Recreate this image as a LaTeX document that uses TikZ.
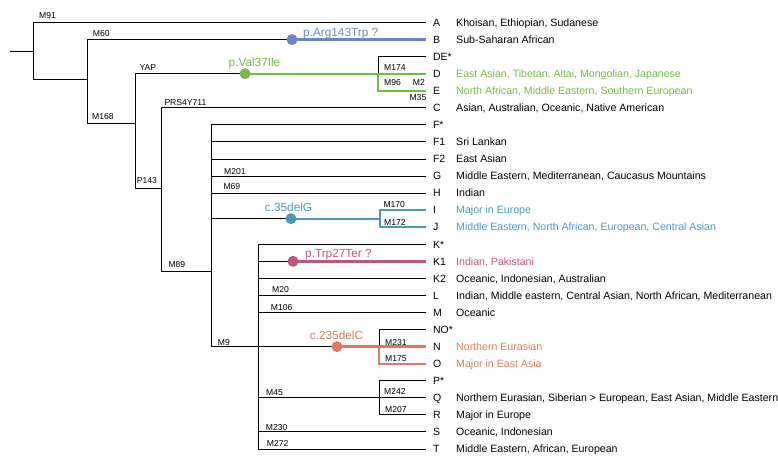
\documentclass[tikz,border=0pt]{standalone}
\usepackage{fontspec}
\setmainfont{Liberation Sans}
\definecolor{cArg}{HTML}{6B87C3}
\definecolor{cVal}{HTML}{76B947}
\definecolor{cDelG}{HTML}{4D98B8}
\definecolor{cTrp}{HTML}{BE5580}
\definecolor{cDelC}{HTML}{DE7B5E}
\tikzset{
  treeline/.style={line width=0.9pt},
  hitline/.style={line width=2.4pt},
  hitdot/.style={circle, fill, inner sep=0pt, minimum size=11pt},
  leaf/.style={anchor=west, inner xsep=3.5pt, outer xsep=3.5pt, inner ysep=0pt, outer ysep=0pt,
    text height=7.5pt, text depth=0pt, font=\fontsize{10.5}{12}\selectfont},
  descr/.style={anchor=west, inner sep=0pt, text height=7.5pt, text depth=0pt,
    font=\fontsize{10.6}{12}\selectfont},
  mut/.style={anchor=base west, inner sep=0pt, font=\fontsize{8.6}{10}\selectfont},
  varlabel/.style={anchor=base, inner sep=0pt, font=\fontsize{11.8}{14}\selectfont},
}
\begin{document}
\begin{tikzpicture}[x=1pt, y=-1pt]
  \useasboundingbox (0,0) rectangle (778,461);
  % leaves
  \node[leaf] (A) at (426,22.5) {A};
  \node[descr] (dA) at (456,22.5) {Khoisan, Ethiopian, Sudanese};
  \node[leaf] (B) at (426,39.6) {B};
  \node[descr] (dB) at (456,39.6) {Sub-Saharan African};
  \node[leaf] (DE) at (426,56.6) {DE*};
  \node[leaf] (D) at (426,73.7) {D};
  \node[descr, text=cVal] (dD) at (456,73.7) {East Asian, Tibetan, Altai, Mongolian, Japanese};
  \node[leaf] (E) at (426,90.7) {E};
  \node[descr, text=cVal] (dE) at (456,90.7) {North African, Middle Eastern, Southern European};
  \node[leaf] (C) at (426,107.8) {C};
  \node[descr] (dC) at (456,107.8) {Asian, Australian, Oceanic, Native American};
  \node[leaf] (F) at (426,124.9) {F*};
  \node[leaf] (F1) at (426,141.9) {F1};
  \node[descr] (dF1) at (456,141.9) {Sri Lankan};
  \node[leaf] (F2) at (426,159) {F2};
  \node[descr] (dF2) at (456,159) {East Asian};
  \node[leaf] (G) at (426,176) {G};
  \node[descr] (dG) at (456,176) {Middle Eastern, Mediterranean, Caucasus Mountains};
  \node[leaf] (H) at (426,193.1) {H};
  \node[descr] (dH) at (456,193.1) {Indian};
  \node[leaf] (I) at (426,210.2) {I};
  \node[descr, text=cDelG] (dI) at (456,210.2) {Major in Europe};
  \node[leaf] (J) at (426,227.2) {J};
  \node[descr, text=cDelG] (dJ) at (456,227.2) {Middle Eastern, North African, European, Central Asian};
  \node[leaf] (K) at (426,244.3) {K*};
  \node[leaf] (K1) at (426,261.3) {K1};
  \node[descr, text=cTrp] (dK1) at (456,261.3) {Indian, Pakistani};
  \node[leaf] (K2) at (426,278.4) {K2};
  \node[descr] (dK2) at (456,278.4) {Oceanic, Indonesian, Australian};
  \node[leaf] (L) at (426,295.5) {L};
  \node[descr] (dL) at (456,295.5) {Indian, Middle eastern, Central Asian, North African, Mediterranean};
  \node[leaf] (M) at (426,312.5) {M};
  \node[descr] (dM) at (456,312.5) {Oceanic};
  \node[leaf] (NO) at (426,329.6) {NO*};
  \node[leaf] (N) at (426,346.6) {N};
  \node[descr, text=cDelC] (dN) at (456,346.6) {Northern Eurasian};
  \node[leaf] (O) at (426,363.7) {O};
  \node[descr, text=cDelC] (dO) at (456,363.7) {Major in East Asia};
  \node[leaf] (P) at (426,380.8) {P*};
  \node[leaf] (Q) at (426,397.8) {Q};
  \node[descr] (dQ) at (456,397.8) {Northern Eurasian, Siberian > European, East Asian, Middle Eastern};
  \node[leaf] (R) at (426,414.9) {R};
  \node[descr] (dR) at (456,414.9) {Major in Europe};
  \node[leaf] (S) at (426,431.9) {S};
  \node[descr] (dS) at (456,431.9) {Oceanic, Indonesian};
  \node[leaf] (T) at (426,449) {T};
  \node[descr] (dT) at (456,449) {Middle Eastern, African, European};
  % branch points
  \coordinate (root) at (10,51);
  \coordinate (n91) at (33,51);
  \coordinate (n60) at (87,79.3);
  \coordinate (n168) at (135,123.3);
  \coordinate (n143) at (161,188);
  \coordinate (n89) at (211,271);
  \coordinate (n9) at (258,346.6);
  \coordinate (nDE) at (378,73.7);
  \coordinate (nIJ) at (380,218.7);
  \coordinate (nNO) at (379,346.6);
  \coordinate (nPQR) at (379,397.8);
  \coordinate (vB) at (292,39.6);
  \coordinate (vD) at (245,73.7);
  \coordinate (vIJ) at (291,218.7);
  \coordinate (vK1) at (293,261.3);
  \coordinate (vNO) at (337,346.6);
  % black tree
  \draw[treeline] (root) -- (n91);
  \draw[treeline] (n91) |- (A.west);
  \draw[treeline] (n91) |- (n60);
  \draw[treeline] (n60) |- (vB);
  \draw[treeline] (n60) |- (n168);
  \draw[treeline] (n168) |- (vD);
  \draw[treeline] (n168) |- (n143);
  \draw[treeline] (nDE) |- (DE.west);
  \draw[treeline] (n143) |- (C.west);
  \draw[treeline] (n143) |- (n89);
  \draw[treeline] (n89) |- (F.west);
  \draw[treeline] (n89) |- (F1.west);
  \draw[treeline] (n89) |- (F2.west);
  \draw[treeline] (n89) |- (G.west);
  \draw[treeline] (n89) |- (H.west);
  \draw[treeline] (n89) |- (vIJ);
  \draw[treeline] (n89) |- (n9);
  \draw[treeline] (n9) |- (K.west);
  \draw[treeline] (n9) |- (vK1);
  \draw[treeline] (n9) |- (K2.west);
  \draw[treeline] (n9) |- (L.west);
  \draw[treeline] (n9) |- (M.west);
  \draw[treeline] (n9) -- (vNO);
  \draw[treeline] (nNO) |- (NO.west);
  \draw[treeline] (n9) |- (Q.west);
  \draw[treeline] (nPQR) |- (P.west);
  \draw[treeline] (nPQR) |- (R.west);
  \draw[treeline] (n9) |- (S.west);
  \draw[treeline] (n9) |- (T.west);
  % coloured lineages
  \draw[hitline, cArg] (vB) -- (B.west);
  \draw[hitline, cVal] (vD) -- (D.west);
  \draw[hitline, cVal] (nDE) |- (E.west);
  \draw[hitline, cDelG] (vIJ) -- (nIJ);
  \draw[hitline, cDelG] (nIJ) |- (I.west);
  \draw[hitline, cDelG] (nIJ) |- (J.west);
  \draw[hitline, cTrp] (vK1) -- (K1.west);
  \draw[hitline, cDelC] (vNO) -- (N.west);
  \draw[hitline, cDelC] (nNO) |- (O.west);
  \node[hitdot, cArg] (dotB) at (vB) {};
  \node[hitdot, cVal] (dotD) at (vD) {};
  \node[hitdot, cDelG] (dotIJ) at (vIJ) {};
  \node[hitdot, cTrp] (dotK1) at (vK1) {};
  \node[hitdot, cDelC] (dotNO) at (vNO) {};
  \node[varlabel, anchor=base west, cArg] (tArg) at (303,36) {p.Arg143Trp ?};
  \node[varlabel, cVal] (tVal) at (254.5,66) {p.Val37Ile};
  \node[varlabel, cDelG] (tDelG) at (288.5,211) {c.35delG};
  \node[varlabel, anchor=base west, cTrp] (tTrp) at (305,257.7) {p.Trp27Ter ?};
  \node[varlabel, cDelC] (tDelC) at (336.5,339.3) {c.235delC};
  % markers
  \node[mut] (m91) at (39,18.3) {M91};
  \node[mut] (m60) at (92.7,36) {M60};
  \node[mut] (m168) at (92,119.5) {M168};
  \node[mut] (mYAP) at (139.3,70) {YAP};
  \node[mut] (mPRS) at (164.3,105) {PRS4Y711};
  \node[mut] (m174) at (384,70) {M174};
  \node[mut] (m96) at (384,85.3) {M96};
  \node[mut, anchor=base east] (m2) at (425,85.3) {M2};
  \node[mut, anchor=base east] (m35) at (426.5,100.3) {M35};
  \node[mut] (m143) at (136.7,183.7) {P143};
  \node[mut] (m201) at (224,174) {M201};
  \node[mut] (m69) at (223.3,189.7) {M69};
  \node[mut] (m170) at (383.3,207.7) {M170};
  \node[mut] (m172) at (384,225.3) {M172};
  \node[mut] (m89) at (168.3,267.7) {M89};
  \node[mut] (m20) at (272,292) {M20};
  \node[mut] (m106) at (270.7,310.7) {M106};
  \node[mut] (m9) at (217.7,345) {M9};
  \node[mut] (m231) at (385,345.7) {M231};
  \node[mut] (m175) at (385,361.7) {M175};
  \node[mut] (m45) at (266,395.7) {M45};
  \node[mut] (m242) at (384,394.3) {M242};
  \node[mut] (m207) at (385,412) {M207};
  \node[mut] (m230) at (265.7,430) {M230};
  \node[mut] (m272) at (266.7,446) {M272};
\end{tikzpicture}
\end{document}
